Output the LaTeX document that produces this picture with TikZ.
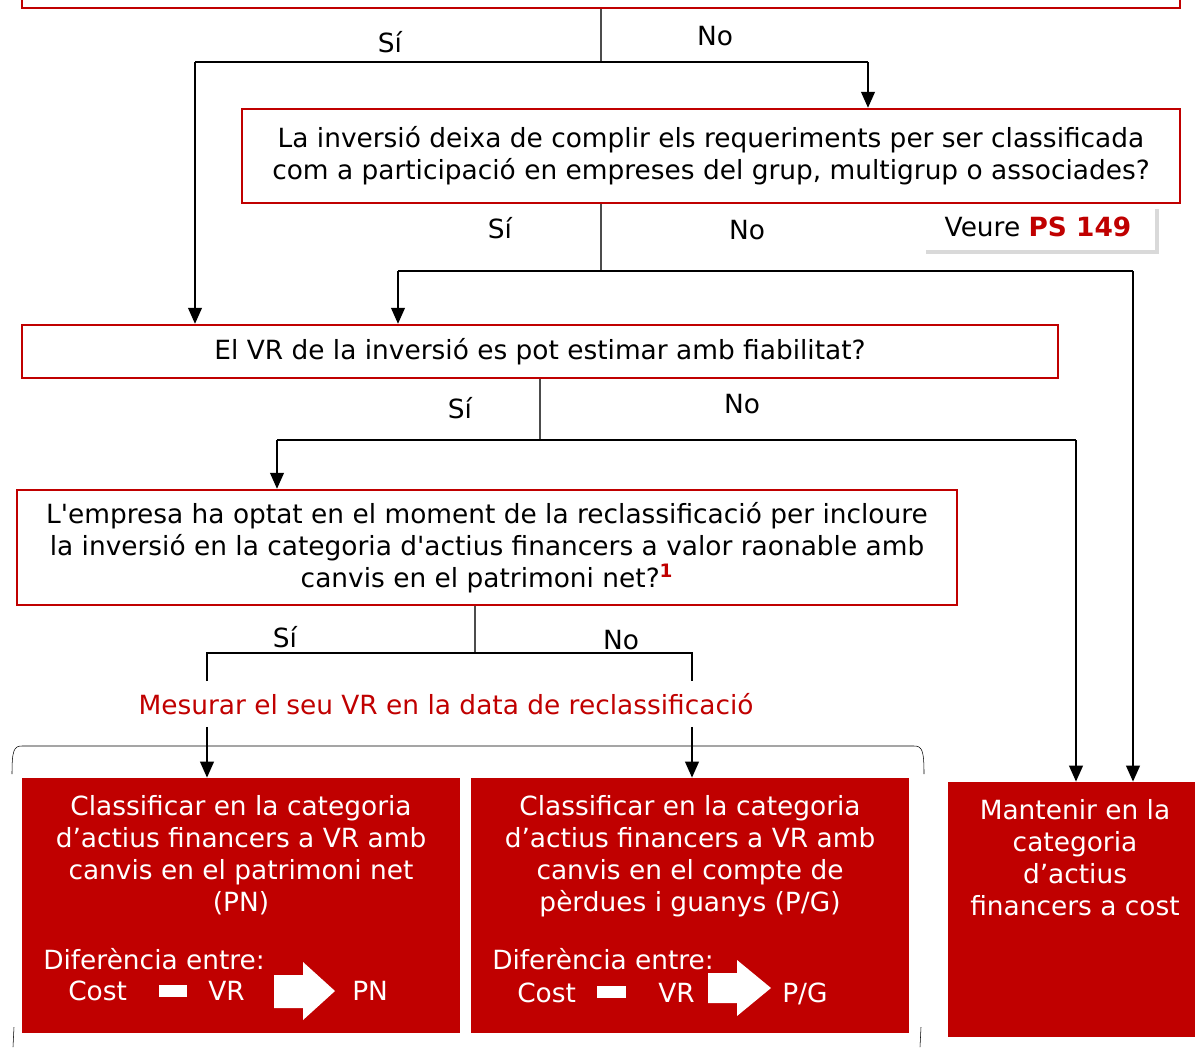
\documentclass[tikz,border=0pt]{standalone}
\usepackage{fontspec}
\setmainfont{DejaVu Sans}
\usetikzlibrary{arrows.meta,shadows}

\definecolor{fsred}{HTML}{C00000}
\newcommand\boxfont{\fontsize{19.8}{24}\selectfont}

\tikzset{
  question/.style={draw=fsred, line width=1.6pt, fill=white, inner sep=0pt,
    align=center, font=\boxfont},
  result/.style={fill=fsred, inner sep=0pt},
  wtxt/.style={text=white, inner sep=0pt, font=\boxfont},
  lbl/.style={inner sep=0pt, font=\boxfont},
  stem/.style={draw=black!70, line width=0.8pt},
  bar/.style={draw=black, line width=2pt},
  flow/.style={bar, -{Triangle[length=12pt,width=10pt]}},
  minusbox/.style={fill=white, inner sep=0pt, minimum width=#1, minimum height=9pt},
}

\begin{document}
\begin{tikzpicture}[x=0.75pt, y=-0.75pt]
    \useasboundingbox (0,0) rectangle (1195,1047);
    \clip (0,0) rectangle (1195,1047);

    % Questions
    \node[question, minimum width=868.5pt, minimum height=28.5pt] (q1) at (601,-11) {};
    \node[question, minimum width=703.5pt, minimum height=70.5pt] (q2) at (711,156)
        {\raisebox{-2pt}{La inversió deixa de complir els requeriments per ser classificada}\\
         \raisebox{-2pt}{com a participació en empreses del grup, multigrup o associades?}};
    \node[question, minimum width=777pt, minimum height=39.75pt] (q3) at (540,351.5)
        {\raisebox{-1.5pt}{El VR de la inversió es pot estimar amb fiabilitat?}};
    \node[question, minimum width=705pt, minimum height=86.25pt] (q4) at (487,547.5)
        {L\textquotesingle empresa ha optat en el moment de la reclassificació per incloure\\
         la inversió en la categoria d\textquotesingle actius financers a valor raonable amb\\
         canvis en el patrimoni net?\textsuperscript{\color{fsred}\bfseries 1}};

    % Reference note
    \node[fill=white, drop shadow={shadow xshift=3pt, shadow yshift=-3pt, opacity=0.3},
          minimum width=174.75pt, minimum height=33.75pt, inner sep=0pt, font=\boxfont]
        (ps) at (1038,227) {Veure \textcolor{fsred}{\bfseries PS 149}};

    % Results
    \node[result, minimum width=328.5pt, minimum height=191.25pt] (pn) at (241,905.5) {};
    \node[result, minimum width=328.5pt, minimum height=191.25pt] (pg) at (690,905.5) {};
    \node[result, minimum width=185.25pt, minimum height=191.25pt] (cost) at (1071.5,909.5) {};

    \node[wtxt, align=center, anchor=north] (pntxt) at (241,795)
        {Classificar en la categoria\\ d’actius financers a VR amb\\
         canvis en el patrimoni net\\ (PN)};
    \node[wtxt, align=center, anchor=north] (pgtxt) at (690,795)
        {Classificar en la categoria\\ d’actius financers a VR amb\\
         canvis en el compte de\\ pèrdues i guanys (P/G)};
    \node[wtxt, align=center, anchor=north] (costtxt) at (1075,799)
        {Mantenir en la\\ categoria\\ d’actius\\ financers a cost};

    % Difference lines
    \node[wtxt, anchor=base west] (pndif) at (43,969) {Diferència entre:};
    \node[wtxt, anchor=base west] (pncost) at (68,1000) {Cost};
    \node[minusbox=21pt] (pnminus) at (173,991) {};
    \node[wtxt, anchor=base west] (pnvr) at (208,1000) {VR};
    \fill[white] (274,975) -- (303,975) -- (303,962) -- (335,991) -- (303,1020)
        -- (303,1008) -- (274,1008) -- cycle;
    \node[wtxt, anchor=base west] (pnres) at (352,1000) {PN};

    \node[wtxt, anchor=base west] (pgdif) at (492,969) {Diferència entre:};
    \node[wtxt, anchor=base west] (pgcost) at (517,1002) {Cost};
    \node[minusbox=22pt] (pgminus) at (611.5,992) {};
    \node[wtxt, anchor=base west] (pgvr) at (658,1002) {VR};
    \fill[white] (708,973) -- (737,973) -- (737,960) -- (771,988) -- (737,1016)
        -- (737,1003) -- (708,1003) -- cycle;
    \node[wtxt, anchor=base west] (pgres) at (782,1002) {P/G};

    % Measure note
    \node[lbl, text=fsred, minimum height=34pt] (mes) at (446,704)
        {Mesurar el seu VR en la data de reclassificació};

    % Junctions
    \coordinate (j1) at (601,62);  \coordinate (a1) at (195,62);  \coordinate (b1) at (868,62);
    \coordinate (j2) at (601,271); \coordinate (a2) at (398,271); \coordinate (b2) at (1133,271);
    \coordinate (j3) at (540,440); \coordinate (a3) at (277,440); \coordinate (b3) at (1076,440);
    \coordinate (j4) at (475,653); \coordinate (a4) at (207,653); \coordinate (b4) at (692,653);

    % Connectors
    \draw[stem] (q1.south -| j1) -- (j1);
    \draw[bar] (a1) -- (b1);
    \draw[flow] (a1) -- (a1 |- q3.north);
    \draw[flow] (b1) -- (b1 |- q2.north);
    \node[lbl] (si1) at (390,42) {Sí};
    \node[lbl] (no1) at (715,36) {No};

    \draw[stem] (q2.south -| j2) -- (j2);
    \draw[bar] (a2) -- (b2);
    \draw[flow] (a2) -- (a2 |- q3.north);
    \draw[flow] (b2) -- (b2 |- cost.north);
    \node[lbl] (si2) at (500,228) {Sí};
    \node[lbl] (no2) at (747,230) {No};

    \draw[stem] (q3.south -| j3) -- (j3);
    \draw[bar] (a3) -- (b3);
    \draw[flow] (a3) -- (a3 |- q4.north);
    \draw[flow] (b3) -- (b3 |- cost.north);
    \node[lbl] (si3) at (460,408) {Sí};
    \node[lbl] (no3) at (742,404) {No};

    \draw[stem] (q4.south -| j4) -- (j4);
    \draw[bar] (a4 |- mes.north) -- (a4) -- (b4) -- (b4 |- mes.north);
    \draw[flow] (mes.south -| a4) -- (a4 |- pn.north);
    \draw[flow] (mes.south -| b4) -- (b4 |- pg.north);
    \node[lbl] (si4) at (285,637) {Sí};
    \node[lbl] (no4) at (621,640) {No};

    % Bracket
    \draw[thin] (12,774) .. controls (12,750) and (14,746) .. (22,746) -- (914,746)
        .. controls (922,746) and (924,750) .. (924,774);
    \draw[thin] (14,1027) -- (13,1047);
    \draw[thin] (921,1027) -- (920,1047);
\end{tikzpicture}
\end{document}
